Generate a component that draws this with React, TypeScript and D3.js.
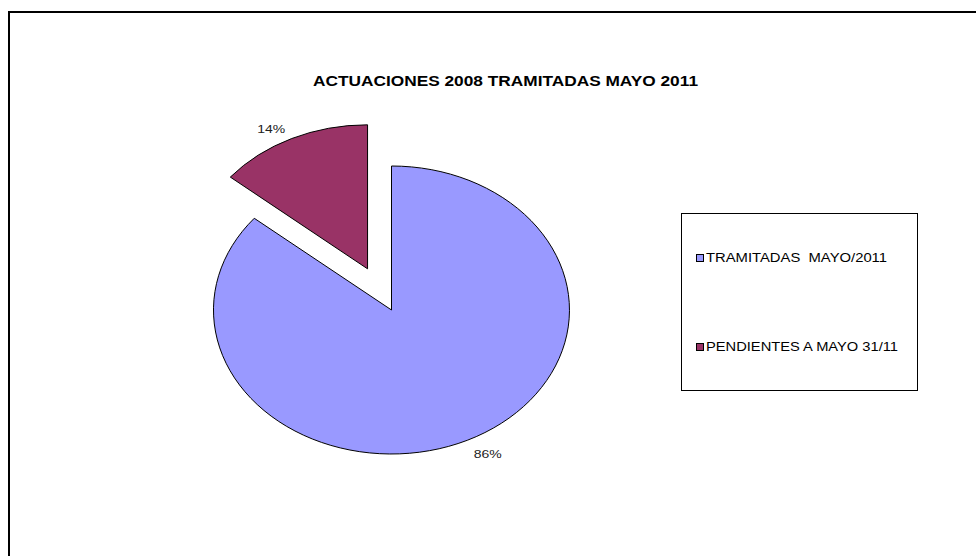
import React from "react";
import * as d3 from "d3";

const title = "ACTUACIONES 2008 TRAMITADAS MAYO 2011";
const categories = ["TRAMITADAS  MAYO/2011", "PENDIENTES A MAYO 31/11"];
const values = [86, 14];
const colors = ["#9999FF", "#993366"];
const exploded = [false, true];

// layout (not data)
const W = 976;
const H = 556;
const cx = 391.5;
const cy = 310;
const rx = 178;
const ry = 144;
const explodeFrac = 0.316;
const legendTextLen = [181, 192];
const FONT = "Arial, 'Liberation Sans', Helvetica, sans-serif";

export default function App() {
  const pie = d3.pie<number>().sort(null).value((d) => d)(values);
  const arc = d3.arc<d3.PieArcDatum<number>>().innerRadius(0).outerRadius(1);
  const total = d3.sum(values);
  const fmt = (v: number) => `${Math.round((v / total) * 100)}%`;

  return (
    <svg
      width={W}
      height={H}
      style={{ position: "absolute", left: 0, top: 0, background: "#fff" }}
    >
      <rect x={9} y={12} width={1100} height={700} fill="#fff" stroke="#000" strokeWidth={2} />
      <text
        x={313}
        y={81}
        dominantBaseline="central"
        fontFamily={FONT}
        fontWeight="bold"
        fontSize={14}
        fill="#000"
        textLength={385}
        lengthAdjust="spacingAndGlyphs"
      >
        {title}
      </text>
      {pie.map((p, i) => {
        const mid = (p.startAngle + p.endAngle) / 2;
        const sx = Math.sin(mid);
        const sy = -Math.cos(mid);
        const off = exploded[i] ? explodeFrac : 0;
        const ox = cx + sx * off * rx;
        const oy = cy + sy * off * ry;
        const lx = ox + sx * 1.27 * rx;
        const ly = oy + sy * 1.09 * ry + 2;
        return (
          <g key={i}>
            <g transform={`translate(${ox},${oy}) scale(${rx},${ry})`}>
              <path
                d={arc(p) || ""}
                fill={colors[i]}
                stroke="#000"
                strokeWidth={1}
                vectorEffect="non-scaling-stroke"
              />
            </g>
            <text
              x={lx - 14}
              y={ly}
              dominantBaseline="central"
              fontFamily={FONT}
              fontSize={11}
              fill="#222"
              textLength={28}
              lengthAdjust="spacingAndGlyphs"
            >
              {fmt(p.value)}
            </text>
          </g>
        );
      })}
      <rect x={681.5} y={213.5} width={236} height={177} fill="#fff" stroke="#000" strokeWidth={1} />
      {categories.map((c, i) => {
        const y = 258 + i * 89;
        return (
          <g key={c}>
            <rect x={696.5} y={y - 3.5} width={7} height={7} fill={colors[i]} stroke="#000" strokeWidth={1} />
            <text
              x={706}
              y={y}
              dominantBaseline="central"
              fontFamily={FONT}
              fontSize={12.5}
              fill="#000"
              style={{ whiteSpace: "pre" }}
              textLength={legendTextLen[i]}
              lengthAdjust="spacingAndGlyphs"
            >
              {c}
            </text>
          </g>
        );
      })}
    </svg>
  );
}
